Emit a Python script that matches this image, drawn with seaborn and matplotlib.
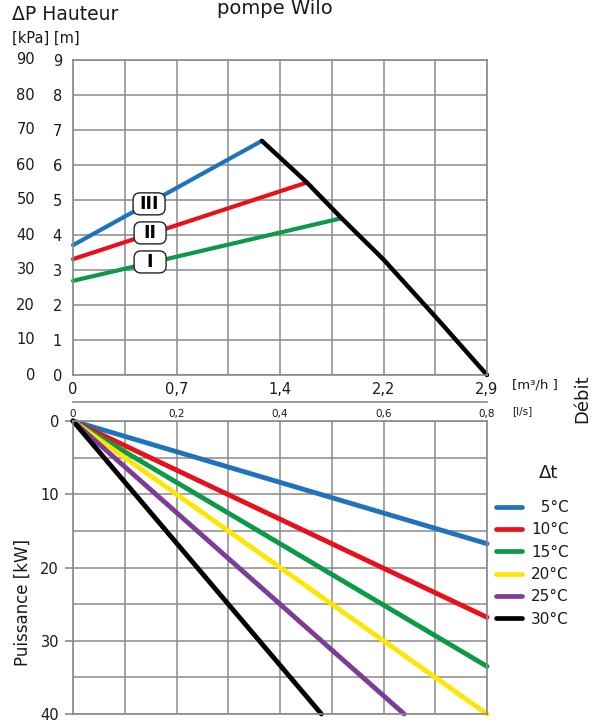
import matplotlib
matplotlib.use("Agg")
import matplotlib.pyplot as plt
import matplotlib.transforms as mtransforms
from matplotlib.patches import FancyBboxPatch
from matplotlib.lines import Line2D
import numpy as np
import pandas as pd
import seaborn as sns

# ---------------- data ----------------
# top panel: pump speed curves (flow in l/s, head in kPa)
speed_names = ["I", "II", "III"]
speed_q = [[0.0, 0.519], [0.0, 0.452], [0.0, 0.365]]
speed_dp = [[26.9, 44.8], [33.1, 55.0], [37.1, 66.9]]
speed_colors = ["#0a9a48", "#e8101a", "#1f73bd"]
speed_label_q = [0.149, 0.149, 0.147]
speed_label_dp = [32.3, 40.6, 48.9]

max_q = [0.365, 0.452, 0.519, 0.60, 0.70, 0.80]
max_dp = [66.9, 55.0, 44.8, 33.0, 16.7, 0.0]

# x axis tick labels
q_ticks_ls = [0.0, 0.2, 0.4, 0.6, 0.8]
q_labels_m3h = ["0", "0,7", "1,4", "2,2", "2,9"]
q_labels_ls = ["0", "0,2", "0,4", "0,6", "0,8"]

kpa_ticks = [0, 10, 20, 30, 40, 50, 60, 70, 80, 90]
m_labels = ["0", "1", "2", "3", "4", "5", "6", "7", "8", "9"]

# bottom panel: power lines per delta t (end points, start at 0,0)
dt_names = ["5°C", "10°C", "15°C", "20°C", "25°C", "30°C"]
dt_q_end = [0.80, 0.80, 0.80, 0.80, 0.64, 0.48]
dt_p_end = [16.75, 26.8, 33.5, 40.0, 40.0, 40.0]
dt_colors = ["#1f73bd", "#e8101a", "#0a9a48", "#ffe600", "#7d3c98", "#000000"]
p_ticks = [0, 10, 20, 30, 40]

# ---------------- style ----------------
sns.set_style("white")
plt.rcParams["font.family"] = ["DejaVu Sans"]
GRID = "#8a8a8a"
TXT = "#1a1a1a"

W, H = 599, 722
fig = plt.figure(figsize=(W / 100, H / 100), dpi=100)


def fx(px):
    return px / W


def fy(py):
    return 1 - py / H


L, R = 73, 487
ax1 = fig.add_axes([fx(L), fy(375), fx(R - L), fy(60) - fy(375)])
ax2 = fig.add_axes([fx(L), fy(714), fx(R - L), fy(421) - fy(714)])

for ax in (ax1, ax2):
    ax.set_axisbelow(True)
    for s in ax.spines.values():
        s.set_color(GRID)
        s.set_linewidth(1.2)
    ax.set_xlim(0, 0.8)
    ax.set_xticks(np.round(np.arange(0, 0.81, 0.1), 2))
    ax.grid(True, which="both", color=GRID, lw=1.1)

# ---- top panel ----
rows = []
for n, qs, ds in zip(speed_names, speed_q, speed_dp):
    for q, d in zip(qs, ds):
        rows.append({"speed": n, "q": q, "dp": d})
df_speed = pd.DataFrame(rows)
sns.lineplot(data=df_speed, x="q", y="dp", hue="speed", palette=dict(zip(speed_names, speed_colors)),
             ax=ax1, lw=3.0, legend=False, estimator=None, sort=False, solid_capstyle="round")
df_max = pd.DataFrame({"q": max_q, "dp": max_dp})
sns.lineplot(data=df_max, x="q", y="dp", color="black", ax=ax1, lw=3.2, estimator=None,
             sort=False, solid_capstyle="round", solid_joinstyle="round")
for ln in ax1.lines:
    ln.set_clip_on(False)

ax1.set_ylim(0, 90)
ax1.set_yticks(kpa_ticks)
ax1.set_yticklabels(m_labels, fontsize=10.5, color=TXT)
ax1.tick_params(axis="y", length=0, pad=8)
xl = []
for t in np.round(np.arange(0, 0.81, 0.1), 2):
    if t in q_ticks_ls:
        xl.append(q_labels_m3h[q_ticks_ls.index(t)])
    else:
        xl.append("")
ax1.set_xticklabels(xl, fontsize=10.5, color=TXT)
ax1.tick_params(axis="x", length=0, pad=5)
ax1.set_xlabel("")
ax1.set_ylabel("")

blend = mtransforms.blended_transform_factory(fig.transFigure, ax1.transData)
for v in kpa_ticks:
    ax1.text(fx(35), v, str(v), transform=blend, ha="right", va="center", fontsize=10.5, color=TXT)

# speed label boxes
bw_px, bh_px = 32, 22
sx = 0.8 / (R - L)
sy = 90 / (375 - 60)
for n, q, d in zip(speed_names, speed_label_q, speed_label_dp):
    bw, bh = bw_px * sx, bh_px * sy
    box = FancyBboxPatch((q - bw / 2, d - bh / 2), bw, bh,
                         boxstyle="round,pad=0,rounding_size=%f" % (7 * sx),
                         mutation_aspect=sy / sx, fc="white", ec="#222222", lw=1.0, zorder=5)
    ax1.add_patch(box)
    ax1.text(q, d, n, ha="center", va="center", fontsize=12.5, fontweight="bold", color="black", zorder=6)

# ---- bottom panel ----
rows = []
for n, q, p in zip(dt_names, dt_q_end, dt_p_end):
    rows.append({"dt": n, "q": 0.0, "p": 0.0})
    rows.append({"dt": n, "q": q, "p": p})
df_p = pd.DataFrame(rows)
sns.lineplot(data=df_p, x="q", y="p", hue="dt", palette=dict(zip(dt_names, dt_colors)),
             ax=ax2, lw=3.5, legend=False, estimator=None, sort=False, solid_capstyle="round")
for ln in ax2.lines:
    ln.set_clip_on(False)
ax2.set_ylim(40, 0)
ax2.set_yticks(p_ticks)
ax2.set_yticks([5, 15, 25, 35], minor=True)
ax2.set_yticklabels([str(v) for v in p_ticks], fontsize=10.5, color=TXT)
ax2.tick_params(axis="y", which="major", length=6, width=1.2, color=GRID, pad=4, direction="out", left=True)
ax2.tick_params(axis="y", which="minor", length=0)
ax2.tick_params(axis="x", length=0, labelbottom=False)
ax2.set_xlabel("")
ax2.set_ylabel("")

# ---- l/s axis ----
ax3 = fig.add_axes([fx(L), fy(402.5), fx(R - L), 0.0005])
ax3.set_xlim(0, 0.8)
for k in ("top", "left", "right"):
    ax3.spines[k].set_visible(False)
ax3.spines["bottom"].set_color(GRID)
ax3.spines["bottom"].set_linewidth(1.2)
ax3.set_yticks([])
ax3.set_xticks(q_ticks_ls)
ax3.set_xticklabels(q_labels_ls, fontsize=7.5, color=TXT)
ax3.tick_params(axis="x", direction="inout", length=9, width=1.2, color=GRID, pad=0)
ax3.patch.set_alpha(0)

# ---- texts ----
fig.text(fx(275), fy(14), "pompe Wilo", ha="center", va="baseline", fontsize=14, color=TXT)
fig.text(fx(12), fy(14), "ΔP Hauteur", ha="left", va="center", fontsize=13.5, color=TXT)
fig.text(fx(12), fy(38), "[kPa] [m]", ha="left", va="center", fontsize=10.5, color=TXT)
fig.text(fx(512), fy(385), "[m³/h ]", ha="left", va="center", fontsize=9.5, color=TXT)
fig.text(fx(512), fy(411), "[l/s]", ha="left", va="center", fontsize=7.5, color=TXT)
fig.text(fx(582), fy(399), "Débit", ha="center", va="center", rotation=90, fontsize=13, color=TXT)
fig.text(fx(23), fy(602), "Puissance [kW]", ha="center", va="center", rotation=90, fontsize=12, color=TXT)
fig.text(fx(549), fy(473), "Δt", ha="center", va="center", fontsize=13, color=TXT)

handles = [Line2D([0], [0], color=c, lw=3.4, solid_capstyle="round") for c in dt_colors]
labels = [("\u2007" + n) if len(n) == 3 else n for n in dt_names]
fig.legend(handles, labels, loc="upper left", bbox_to_anchor=(fx(496), fy(500)), frameon=False,
           fontsize=11, handlelength=1.7, handletextpad=0.6, labelspacing=0.48, borderpad=0,
           borderaxespad=0, labelcolor=TXT)

fig.savefig("out.png", dpi=100)
